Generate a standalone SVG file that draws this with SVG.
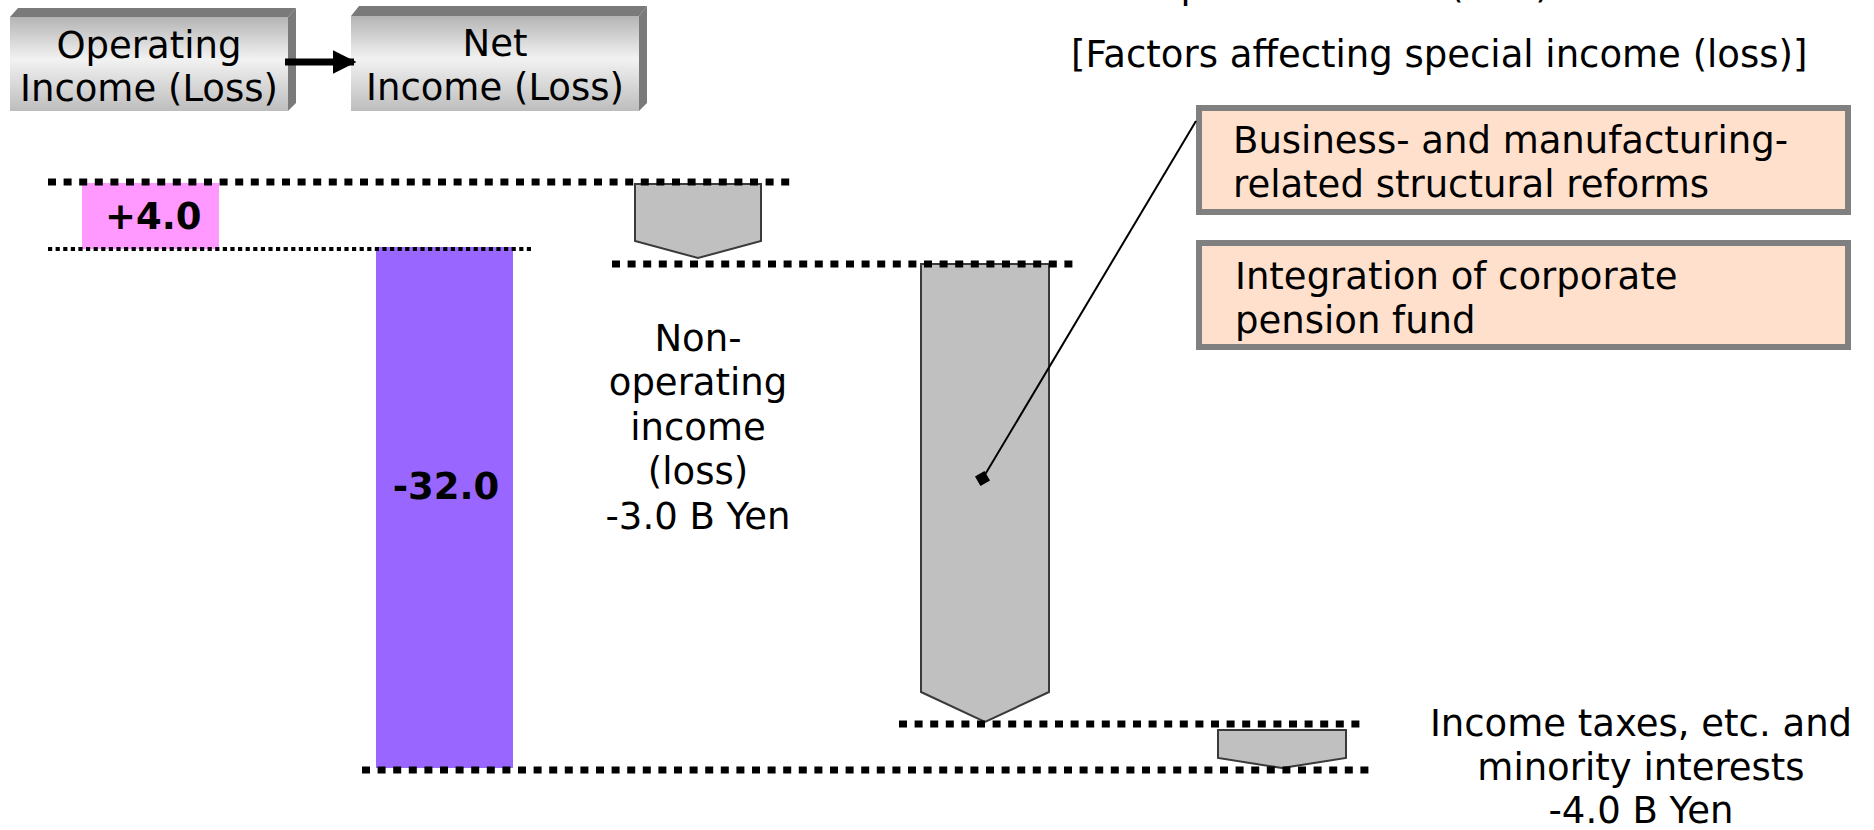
<svg xmlns="http://www.w3.org/2000/svg" width="1874" height="830" viewBox="0 0 1874 830">
  <defs>
    <linearGradient id="faceGrad" x1="0" y1="0" x2="0" y2="1">
      <stop offset="0" stop-color="#b4b4b4"/>
      <stop offset="0.45" stop-color="#f2f2f2"/>
      <stop offset="1" stop-color="#bdbdbd"/>
    </linearGradient>
    <marker id="arrowHead" viewBox="0 0 10 10" refX="9" refY="5" markerWidth="3.4" markerHeight="3.4" orient="auto" markerUnits="strokeWidth">
      <path d="M0,0 L10,5 L0,10 Z" fill="#000"/>
    </marker>
  </defs>
  <style>
    text { font-family: "DejaVu Sans", Verdana, sans-serif; font-size: 37px; fill: #000; }
    .mid { text-anchor: middle; }
    .bold { font-weight: bold; }
    .bevel { fill: #7a7a7a; }
    .face { fill: url(#faceGrad); }
    .drop { fill: #c0c0c0; stroke: #3a3a3a; stroke-width: 2; }
    .dotBig { stroke: #000; stroke-width: 7; stroke-dasharray: 8 7.6; fill: none; }
    .dotThin { stroke: #000; stroke-width: 4; stroke-dasharray: 4.2 3.4; fill: none; }
    .factor rect { fill: #ffe0cc; stroke: #808080; stroke-width: 6; }
  </style>

  <rect width="1874" height="830" fill="#fff"/>

  <!-- heading (its first line runs above the top edge) -->
  <g id="heading">
    <text x="1157" y="-2" font-size="36">Special income (loss)</text>
    <text x="1071" y="67">[Factors affecting special income (loss)]</text>
  </g>

  <!-- legend boxes -->
  <g id="legend-operating">
    <polygon class="bevel" points="10,17 18,8 296,8 288,17"/>
    <polygon class="bevel" points="288,17 296,8 296,103 288,111"/>
    <rect class="face" x="10" y="17" width="278" height="94"/>
    <text class="mid" x="149" y="58">Operating</text>
    <text class="mid" x="149" y="101">Income (Loss)</text>
  </g>
  <g id="legend-net">
    <polygon class="bevel" points="351,16 359,6 647,6 639,16"/>
    <polygon class="bevel" points="639,16 647,6 647,103 639,111"/>
    <rect class="face" x="351" y="16" width="288" height="95"/>
    <text class="mid" x="495" y="56">Net</text>
    <text class="mid" x="495" y="100">Income (Loss)</text>
  </g>

  <!-- bars -->
  <g id="bar-operating">
    <rect x="82" y="183" width="137" height="66" fill="#ff99ff"/>
    <text class="bold" x="105" y="229">+4.0</text>
  </g>
  <g id="bar-net">
    <rect x="376" y="247" width="137" height="521" fill="#9966ff"/>
    <text class="bold mid" x="446" y="499">-32.0</text>
  </g>
  <g id="step-nonoperating">
    <polygon class="drop" points="635,184 761,184 761,241 698,258 635,241"/>
    <text class="mid" x="698" y="351">Non-</text>
    <text class="mid" x="698" y="395">operating</text>
    <text class="mid" x="698" y="440">income</text>
    <text class="mid" x="698" y="484">(loss)</text>
    <text class="mid" x="698" y="529">-3.0 B Yen</text>
  </g>
  <g id="step-special">
    <polygon class="drop" points="921,264 1049,264 1049,692 985,722 921,692"/>
  </g>
  <g id="step-taxes">
    <polygon class="drop" points="1218,730 1346,730 1346,758 1282,768 1218,758"/>
    <text class="mid" x="1641" y="736">Income taxes, etc. and</text>
    <text class="mid" x="1641" y="780">minority interests</text>
    <text class="mid" x="1641" y="823">-4.0 B Yen</text>
  </g>

  <!-- factor boxes -->
  <g id="factor-reforms" class="factor">
    <rect x="1199" y="108" width="649" height="104"/>
    <text x="1233" y="153">Business- and manufacturing-</text>
    <text x="1233" y="197">related structural reforms</text>
  </g>
  <g id="factor-pension" class="factor">
    <rect x="1199" y="243" width="649" height="104"/>
    <text x="1235" y="289">Integration of corporate</text>
    <text x="1235" y="333">pension fund</text>
  </g>

  <!-- connectors: level guides, legend arrow and callout -->
  <g id="connectors">
    <line class="dotBig" x1="48" y1="182" x2="791" y2="182"/>
    <line class="dotThin" x1="48" y1="249" x2="532" y2="249"/>
    <line class="dotBig" x1="612" y1="264" x2="1078" y2="264"/>
    <line class="dotBig" x1="899" y1="724" x2="1365" y2="724"/>
    <line class="dotBig" x1="362" y1="770" x2="1374" y2="770"/>
    <line x1="285" y1="62" x2="354" y2="62" stroke="#000" stroke-width="7" marker-end="url(#arrowHead)"/>
    <line x1="983" y1="478" x2="1196" y2="121" stroke="#000" stroke-width="2"/>
    <rect x="977" y="473" width="11" height="11" fill="#000" transform="rotate(-30 982.5 478.5)"/>
  </g>
</svg>
